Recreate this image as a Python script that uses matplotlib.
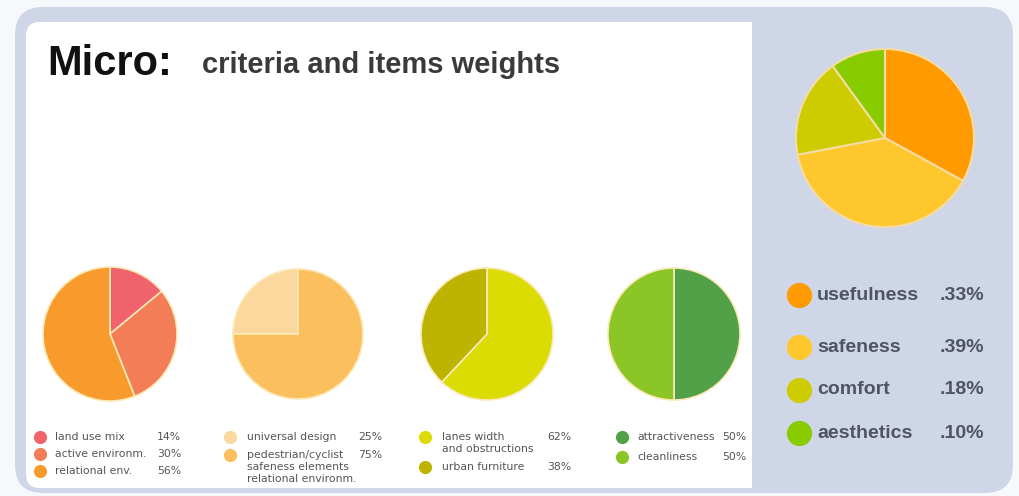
from matplotlib import pyplot as plt
from matplotlib.patches import FancyBboxPatch, Rectangle

plt.rcParams['font.family'] = ['Liberation Sans', 'DejaVu Sans']

# small pies (legend order)
mix_labels = ["land use mix", "active environm.", "relational env."]
mix_values = [14, 30, 56]
mix_colors = ["#f0636c", "#f27d56", "#f89b2c"]

safe_labels = ["universal design", "pedestrian/cyclist\nsafeness elements\nrelational environm."]
safe_values = [25, 75]
safe_colors = ["#fcd89e", "#fbbf5e"]

lane_labels = ["lanes width\nand obstructions", "urban furniture"]
lane_values = [62, 38]
lane_colors = ["#dcdc05", "#bcb400"]

look_labels = ["attractiveness", "cleanliness"]
look_values = [50, 50]
look_colors = ["#52a047", "#8cc526"]

# main pie
crit_labels = ["usefulness", "safeness", "comfort", "aesthetics"]
crit_values = [33, 39, 18, 10]
crit_pct = [".33%", ".39%", ".18%", ".10%"]
crit_colors = ["#ff9a00", "#ffc72e", "#cccc00", "#88cc00"]

W, H = 1019, 496
fig = plt.figure(figsize=(W / 100, H / 100), dpi=100)
fig.patch.set_facecolor("#f7f8fb")
ax = fig.add_axes([0, 0, 1, 1])


def Y(y):
    return H - y


# panels
ax.add_patch(FancyBboxPatch((15, Y(493)), 998, 486, boxstyle="round,pad=0,rounding_size=28",
                            fc="#cfd6e8", ec="none", zorder=0))
ax.add_patch(FancyBboxPatch((26, Y(488)), 726, 466, boxstyle="round,pad=0,rounding_size=14",
                            fc="white", ec="none", zorder=1))
ax.add_patch(Rectangle((700, Y(488)), 52, 466, fc="white", ec="none", zorder=1))

ax.text(47, Y(75), "Micro:", fontsize=30, fontweight="bold", color="#111111", zorder=3)
ax.text(202, Y(73), "criteria and items weights", fontsize=21, fontweight="bold",
        color="#3a3a3a", zorder=3)

edge = dict(edgecolor="#fbe9b8", linewidth=1.2)
ax.pie(mix_values, colors=mix_colors, startangle=90, counterclock=False,
       center=(110, Y(334)), radius=67, wedgeprops=edge)
ax.pie(safe_values, colors=safe_colors, startangle=90, counterclock=True,
       center=(298, Y(334)), radius=65, wedgeprops=edge)
ax.pie(lane_values, colors=lane_colors, startangle=90, counterclock=False,
       center=(487, Y(334)), radius=66, wedgeprops=edge)
ax.pie(look_values, colors=look_colors, startangle=90, counterclock=False,
       center=(674, Y(334)), radius=66, wedgeprops=edge)
ax.pie(crit_values, colors=crit_colors, startangle=90, counterclock=False,
       center=(885, Y(138)), radius=89, wedgeprops=dict(edgecolor="#f5dca0", linewidth=1.5))

# bottom legends
fs = 7.8
tc = "#555555"
lf = ['DejaVu Sans']
ms = 90


def item(xd, yd, color, label, xt, pct, xp):
    ax.scatter([xd], [Y(yd)], s=ms, color=color, zorder=4, linewidths=0)
    ax.text(xt, Y(yd - 5), label, fontsize=fs, color=tc, va="top", linespacing=1.25,
            family=lf, zorder=4)
    ax.text(xp, Y(yd), f"{pct}%", fontsize=fs, color=tc, va="center", family=lf, zorder=4)


for i, y in enumerate([437, 454, 471]):
    item(40, y, mix_colors[i], mix_labels[i], 55, mix_values[i], 157)

for i, y in enumerate([437, 455]):
    item(230, y, safe_colors[i], safe_labels[i], 247, safe_values[i], 358)

for i, y in enumerate([437, 467]):
    item(425, y, lane_colors[i], lane_labels[i], 442, lane_values[i], 547)

for i, y in enumerate([437, 457]):
    item(622, y, look_colors[i], look_labels[i], 637, look_values[i], 722)

# right legend
for i, y in enumerate([295, 347, 390, 433]):
    ax.scatter([799], [Y(y)], s=330, color=crit_colors[i], zorder=4, linewidths=0)
    ax.text(817, Y(y), crit_labels[i], fontsize=14, fontweight="bold", color="#4e5366",
            va="center", zorder=4)
    ax.text(984, Y(y), crit_pct[i], fontsize=14, fontweight="bold", color="#4e5366",
            va="center", ha="right", zorder=4)

ax.set_xlim(0, W)
ax.set_ylim(0, H)
ax.set_aspect("auto")
ax.axis("off")

plt.savefig("out.png", dpi=100, facecolor=fig.get_facecolor())
